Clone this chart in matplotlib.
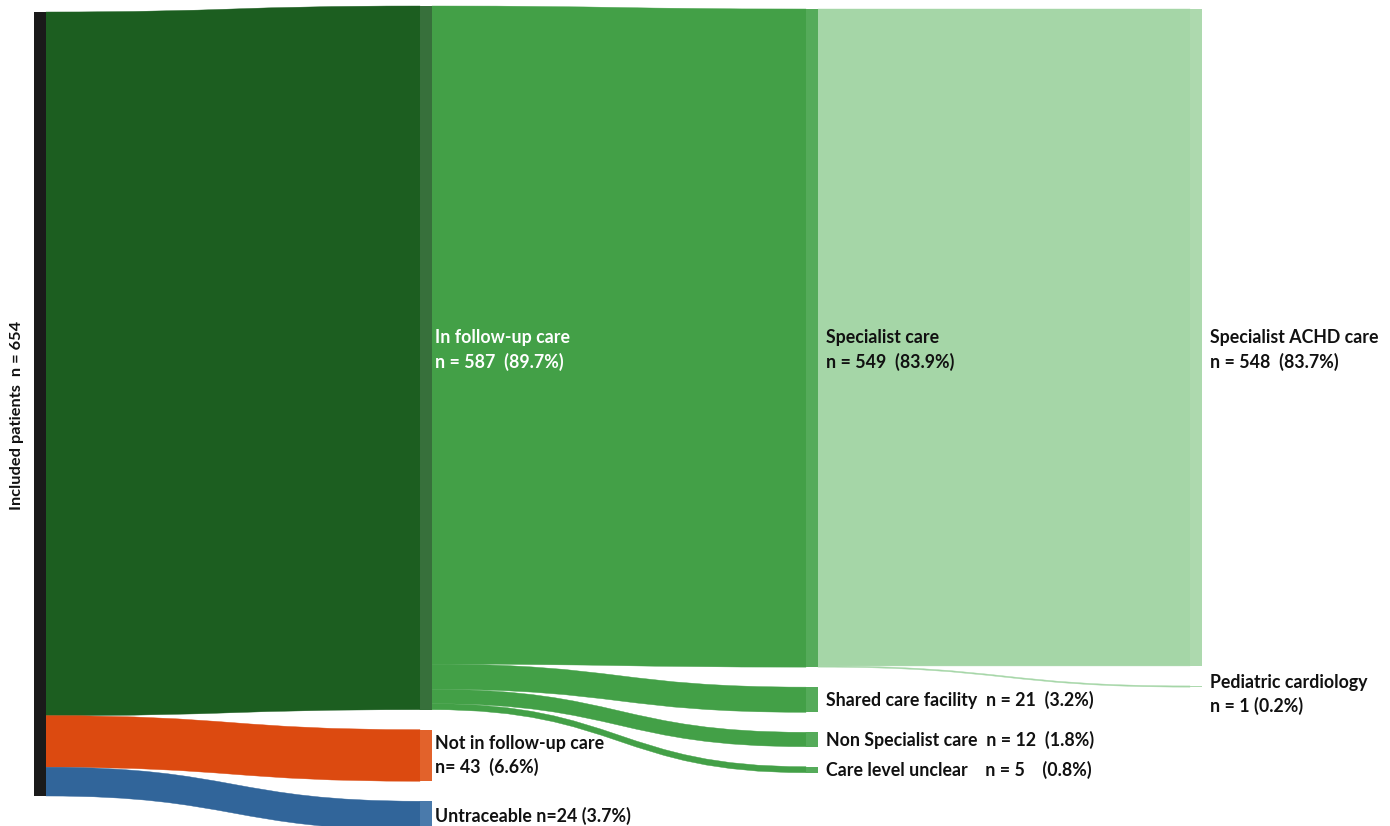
import matplotlib
matplotlib.use("Agg")
import matplotlib.pyplot as plt
from matplotlib.path import Path
from matplotlib.patches import PathPatch, Rectangle

# ---- data -----------------------------------------------------------------
total = 654
nodes = [
    # (column, name, n)
    (0, "Included patients", 654),
    (1, "In follow-up care", 587),
    (1, "Not in follow-up care", 43),
    (1, "Untraceable", 24),
    (2, "Specialist care", 549),
    (2, "Shared care facility", 21),
    (2, "Non Specialist care", 12),
    (2, "Care level unclear", 5),
    (3, "Specialist ACHD care", 548),
    (3, "Pediatric cardiology", 1),
]
links = [
    ("Included patients", "In follow-up care", 587),
    ("Included patients", "Not in follow-up care", 43),
    ("Included patients", "Untraceable", 24),
    ("In follow-up care", "Specialist care", 549),
    ("In follow-up care", "Shared care facility", 21),
    ("In follow-up care", "Non Specialist care", 12),
    ("In follow-up care", "Care level unclear", 5),
    ("Specialist care", "Specialist ACHD care", 548),
    ("Specialist care", "Pediatric cardiology", 1),
]
labels = {
    "In follow-up care": "In follow-up care\nn = 587  (89.7%)",
    "Not in follow-up care": "Not in follow-up care\nn= 43  (6.6%)",
    "Untraceable": "Untraceable n=24 (3.7%)",
    "Specialist care": "Specialist care\nn = 549  (83.9%)",
    "Shared care facility": "Shared care facility  n = 21  (3.2%)",
    "Non Specialist care": "Non Specialist care  n = 12  (1.8%)",
    "Care level unclear": "Care level unclear    n = 5    (0.8%)",
    "Specialist ACHD care": "Specialist ACHD care\nn = 548  (83.7%)",
    "Pediatric cardiology": "Pediatric cardiology\nn = 1 (0.2%)",
}

# ---- styling / layout -----------------------------------------------------
W, H = 1390, 826
scale = 784 / total          # pixels per patient
col_x = [34, 420, 806, 1190]
col_top = [12, 6, 9, 9]
node_w = 12
gap = 20

flow_colors = {
    ("Included patients", "In follow-up care"): "#1c5e20",
    ("Included patients", "Not in follow-up care"): "#dc4a10",
    ("Included patients", "Untraceable"): "#31659a",
}
flow_default = {1: "#43a047", 2: "#a5d6a7"}
node_colors = {
    "Included patients": "#1a1a1a",
    "In follow-up care": "#37703b",
    "Not in follow-up care": "#e2622b",
    "Untraceable": "#4a7aab",
    "Specialist care": "#55ab5a",
    "Shared care facility": "#55ab5a",
    "Non Specialist care": "#55ab5a",
    "Care level unclear": "#55ab5a",
    "Specialist ACHD care": "#add9ae",
    "Pediatric cardiology": "#add9ae",
}

plt.rcParams["font.family"] = ["Lato", "DejaVu Sans"]

fig = plt.figure(figsize=(W / 100, H / 100), dpi=100)
ax = fig.add_axes([0, 0, 1, 1])
ax.set_xlim(0, W)
ax.set_ylim(H, 0)
ax.axis("off")

# node positions
pos = {}
col_cursor = {}
for col, name, n in nodes:
    y0 = col_cursor.get(col, col_top[col])
    h = n * scale
    pos[name] = (col, y0, y0 + h)
    col_cursor[col] = y0 + h + gap

out_off = {name: pos[name][1] for name in pos}
in_off = {name: pos[name][1] for name in pos}


def ribbon(x0, y0t, y0b, x1, y1t, y1b, color):
    xm = (x0 + x1) / 2
    verts = [(x0, y0t), (xm, y0t), (xm, y1t), (x1, y1t),
             (x1, y1b), (xm, y1b), (xm, y0b), (x0, y0b), (x0, y0t)]
    codes = [Path.MOVETO, Path.CURVE4, Path.CURVE4, Path.CURVE4,
             Path.LINETO, Path.CURVE4, Path.CURVE4, Path.CURVE4, Path.CLOSEPOLY]
    ax.add_patch(PathPatch(Path(verts, codes), facecolor=color,
                           edgecolor=color, lw=0.3, zorder=1))


for src, tgt, n in links:
    h = n * scale
    scol = pos[src][0]
    tcol = pos[tgt][0]
    y0 = out_off[src]
    y1 = in_off[tgt]
    out_off[src] += h
    in_off[tgt] += h
    color = flow_colors.get((src, tgt), flow_default.get(scol))
    ribbon(col_x[scol] + node_w, y0, y0 + h, col_x[tcol], y1, y1 + h, color)

for col, name, n in nodes:
    _, y0, y1 = pos[name]
    ax.add_patch(Rectangle((col_x[col], y0), node_w, y1 - y0,
                           facecolor=node_colors[name], edgecolor="none", zorder=2))

# labels
txt = dict(fontsize=12.8, fontweight="bold", zorder=3)
ax.text(17, (pos["Included patients"][1] + pos["Included patients"][2]) / 2 + 11,
        "Included patients  n = 654", rotation=90, ha="center", va="center",
        color="#111111", fontsize=11.8, fontweight="bold", zorder=3)

for col, name, n in nodes:
    if name not in labels:
        continue
    _, y0, y1 = pos[name]
    yc = (y0 + y1) / 2
    if n > 500:
        yc = 350
    elif name == "Pediatric cardiology":
        yc = y0 + 9
    x = col_x[col] + node_w + (3 if col == 1 else 8)
    color = "white" if name == "In follow-up care" else "#111111"
    ax.text(x, yc, labels[name], ha="left", va="center", color=color,
            linespacing=1.4, **txt)

fig.savefig("out.png", dpi=100)
